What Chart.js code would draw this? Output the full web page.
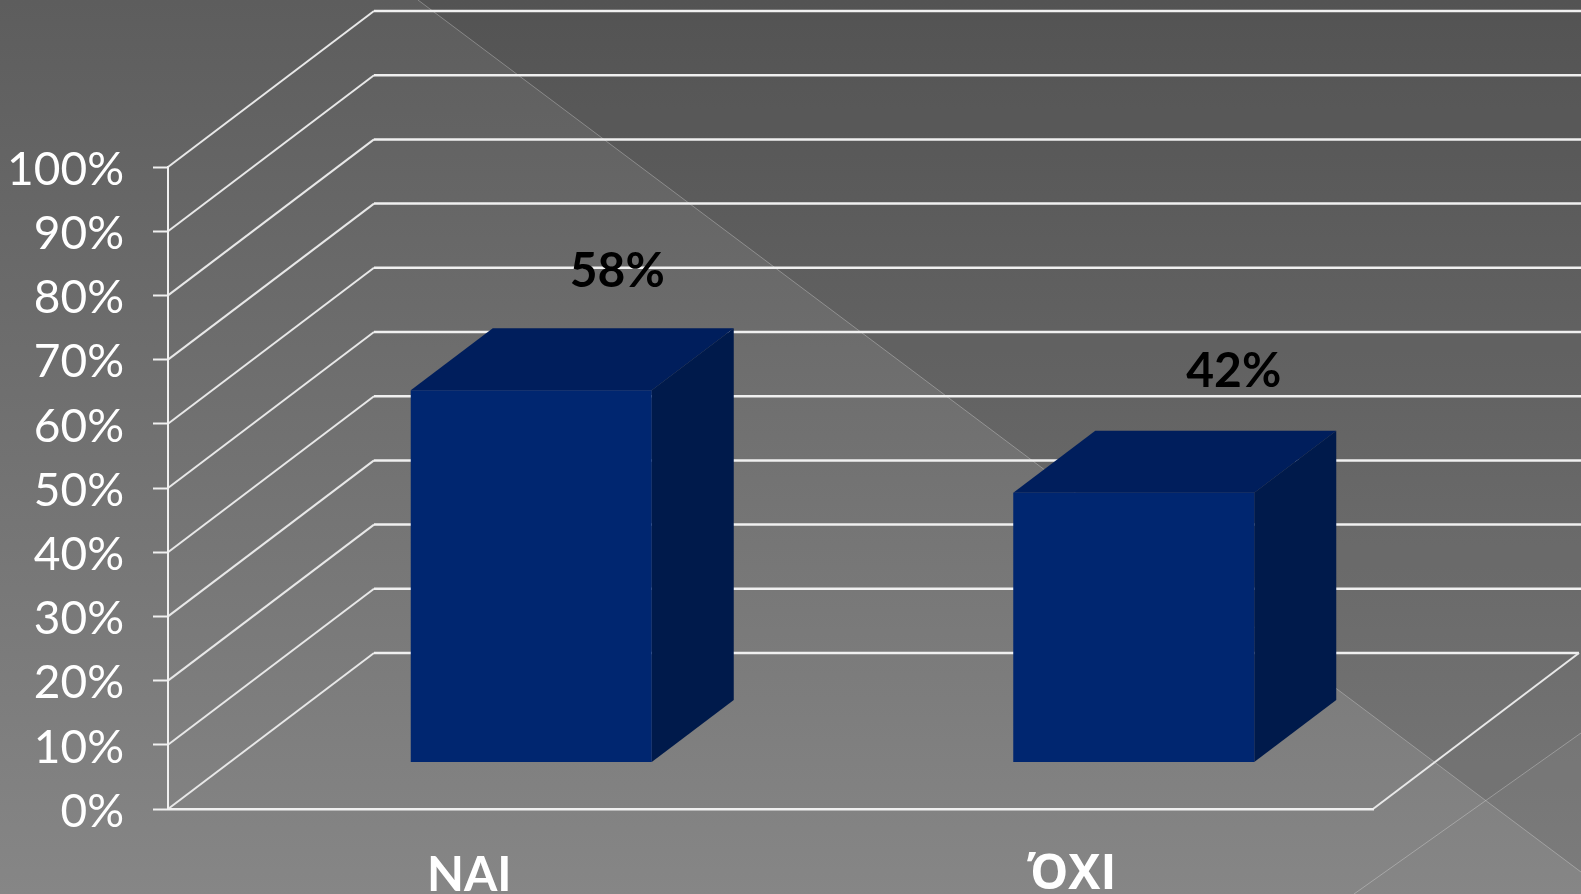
<!DOCTYPE html>
<html lang="el">
<head>
<meta charset="utf-8">
<title>ΝΑΙ / ΌΧΙ</title>
<style>html,body{margin:0;padding:0;background:#707070;overflow:hidden}canvas{display:block}</style>
<script src="https://cdn.jsdelivr.net/npm/chart.js@4/dist/chart.umd.min.js"></script>
</head>
<body>
<canvas id="c" width="1581" height="894"></canvas>
<script>
const categories = ['ΝΑΙ', 'ΌΧΙ'];
const shares = [58, 42];
const shareLabels = ['58%', '42%'];
const tickStep = 10;

const FRONT = '#002670', TOP = '#001E5C', SIDE = '#001A4B';
const WALL = {dx: 206, dy: 156};      // depth of the floor
const BAR = {dx: 82, dy: 62};         // depth of each bar
const INSET = {dx: 62, dy: 46.5};     // bar offset from the front edge of the floor
const LABEL_OFFSET = [[86, -57], [100, -59]]; // from bar's back-top centre line

const scene = {
  id: 'scene',
  beforeDraw(chart) {
    const {ctx, width: w, height: h, scales: {x, y}} = chart;
    const g = ctx.createLinearGradient(0, 0, 0, h);
    g.addColorStop(0, '#5d5d5d');
    g.addColorStop(1, '#868686');
    ctx.save();
    ctx.fillStyle = g;
    ctx.fillRect(0, 0, w, h);

    // decorative background planes
    ctx.fillStyle = 'rgba(0,0,0,0.10)';
    ctx.beginPath(); ctx.moveTo(418, 0); ctx.lineTo(1486, 801); ctx.lineTo(w, 733); ctx.lineTo(w, 0); ctx.closePath(); ctx.fill();
    ctx.fillStyle = 'rgba(0,0,0,0.07)';
    ctx.beginPath(); ctx.moveTo(w, 733); ctx.lineTo(1486, 801); ctx.lineTo(w, 872); ctx.closePath(); ctx.fill();
    ctx.strokeStyle = 'rgba(255,255,255,0.28)';
    ctx.lineWidth = 1;
    ctx.beginPath(); ctx.moveTo(418, 0); ctx.lineTo(w, 872); ctx.moveTo(w, 733); ctx.lineTo(1354, h); ctx.stroke();

    // side wall + back wall grid
    ctx.lineCap = 'butt';
    ctx.lineJoin = 'miter';
    y.ticks.forEach(t => {
      const py = y.getPixelForValue(t.value);
      const bx = x.left + WALL.dx, by = py - WALL.dy;
      ctx.strokeStyle = '#e8e8e8';
      ctx.lineWidth = 2;
      ctx.beginPath(); ctx.moveTo(x.left, py); ctx.lineTo(bx, by); ctx.stroke();
      ctx.lineWidth = 2.5;
      ctx.strokeStyle = '#f0f0f0';
      ctx.beginPath(); ctx.moveTo(bx, by); ctx.lineTo(t.value === 0 ? x.right + WALL.dx : w, by); ctx.stroke();
    });
    // right edge of floor
    const py0 = y.getPixelForValue(0);
    ctx.strokeStyle = '#e8e8e8';
    ctx.lineWidth = 2;
    ctx.beginPath(); ctx.moveTo(x.right, py0); ctx.lineTo(x.right + WALL.dx, py0 - WALL.dy); ctx.stroke();
    ctx.restore();
  },
  beforeDatasetDraw(chart, args) {
    const {ctx} = chart;
    const meta = chart.getDatasetMeta(args.index);
    ctx.save();
    ctx.translate(INSET.dx, -INSET.dy);
    meta.data.forEach(b => {
      const x0 = b.x - b.width / 2, x1 = b.x + b.width / 2;
      ctx.fillStyle = TOP;
      ctx.beginPath();
      ctx.moveTo(x0, b.y); ctx.lineTo(x0 + BAR.dx, b.y - BAR.dy);
      ctx.lineTo(x1 + BAR.dx, b.y - BAR.dy); ctx.lineTo(x1, b.y);
      ctx.closePath(); ctx.fill();
      ctx.fillStyle = SIDE;
      ctx.beginPath();
      ctx.moveTo(x1, b.y); ctx.lineTo(x1 + BAR.dx, b.y - BAR.dy);
      ctx.lineTo(x1 + BAR.dx, b.base - BAR.dy); ctx.lineTo(x1, b.base);
      ctx.closePath(); ctx.fill();
    });
  },
  afterDatasetDraw(chart) {
    chart.ctx.restore();
  },
  afterDatasetsDraw(chart) {
    const {ctx} = chart;
    const meta = chart.getDatasetMeta(0);
    ctx.save();
    ctx.fillStyle = '#000';
    ctx.font = '700 48px Lato, "Open Sans", sans-serif';
    ctx.textAlign = 'center';
    ctx.textBaseline = 'middle';
    meta.data.forEach((b, i) => {
      const [ox, oy] = LABEL_OFFSET[i];
      ctx.fillText(shareLabels[i], b.x + INSET.dx + ox, b.y - INSET.dy - BAR.dy + oy);
    });
    ctx.restore();
  }
};

new Chart(document.getElementById('c'), {
  type: 'bar',
  data: {
    labels: categories,
    datasets: [{
      data: shares,
      backgroundColor: FRONT,
      borderWidth: 0,
      barPercentage: 0.4,
      categoryPercentage: 1
    }]
  },
  options: {
    responsive: false,
    animation: false,
    events: [],
    layout: {padding: {left: 0, top: 167, right: 208, bottom: 0}},
    plugins: {legend: {display: false}, title: {display: false}, tooltip: {enabled: false}},
    scales: {
      x: {
        afterFit(s) { s.height = 85; },
        grid: {display: false, drawTicks: false},
        border: {display: true, color: '#f0f0f0', width: 2.5},
        ticks: {
          color: '#ffffff', padding: 38, maxRotation: 0,
          font: ctx => ({
            family: ctx.index === 1 ? '"Open Sans", sans-serif' : 'Lato, "Open Sans", sans-serif',
            size: 48,
            weight: '700'
          })
        }
      },
      y: {
        min: 0, max: 100,
        afterFit(s) { s.width = 168; },
        grid: {drawOnChartArea: false, drawTicks: true, tickLength: 15, tickColor: '#f0f0f0', tickWidth: 2},
        border: {display: true, color: '#f0f0f0', width: 2},
        ticks: {
          stepSize: tickStep, color: '#ffffff', padding: 29, labelOffset: 3,
          font: {family: 'Lato, "Open Sans", sans-serif', size: 46, weight: '400'},
          callback: v => v + '%'
        }
      }
    }
  },
  plugins: [scene]
});
</script>
</body>
</html>
